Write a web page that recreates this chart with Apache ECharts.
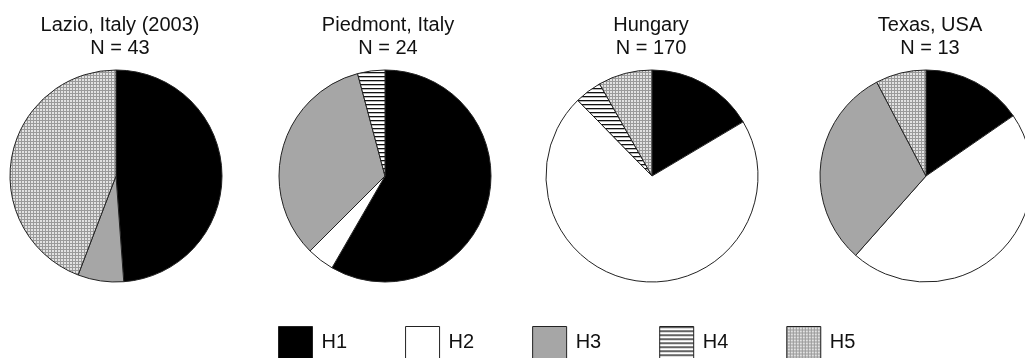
<!DOCTYPE html>
<html>
<head>
<meta charset="utf-8">
<script src="https://cdn.jsdelivr.net/npm/echarts@6/dist/echarts.min.js"></script>
<style>
  html, body { margin: 0; padding: 0; background: #fff; }
  #chart { width: 1025px; height: 358px; }
</style>
</head>
<body>
<div id="chart"></div>
<script>
// Haplotype counts per site (H1..H5)
const categories = ['H1', 'H2', 'H3', 'H4', 'H5'];
const sites = ['Lazio, Italy (2003)', 'Piedmont, Italy', 'Hungary', 'Texas, USA'];
const lazio = [21, 0, 3, 0, 19];
const piedmont = [14, 1, 8, 1, 0];
const hungary = [28, 121, 0, 7, 14];
const texas = [2, 6, 4, 0, 1];
const counts = [lazio, piedmont, hungary, texas];

// Fill patterns
function stripePattern() {
  const c = document.createElement('canvas');
  c.width = 4; c.height = 4;
  const g = c.getContext('2d');
  g.fillStyle = '#ffffff'; g.fillRect(0, 0, 4, 4);
  g.fillStyle = '#111111'; g.fillRect(0, 0, 4, 1.3);
  return { image: c, repeat: 'repeat' };
}
function dotPattern() {
  const c = document.createElement('canvas');
  c.width = 3; c.height = 3;
  const g = c.getContext('2d');
  g.fillStyle = '#9a9a9a'; g.fillRect(0, 0, 3, 3);
  g.fillStyle = '#e2e2e2'; g.fillRect(1, 1, 2, 2);
  return { image: c, repeat: 'repeat' };
}
const fills = ['#000000', '#ffffff', '#a6a6a6', stripePattern(), dotPattern()];

const centersX = [116, 385, 652, 926];
const titleX = [120, 388, 651, 930];
const centerY = 176;
const radius = 106;

const chart = echarts.init(document.getElementById('chart'), null, { renderer: 'canvas' });

const titles = sites.map((name, i) => ({
  text: name + '\nN = ' + counts[i].reduce((a, b) => a + b, 0),
  left: titleX[i],
  top: 14,
  textAlign: 'center',
  padding: 0,
  textStyle: {
    fontFamily: 'Liberation Sans, Arial, sans-serif',
    fontSize: 20,
    fontWeight: 'normal',
    lineHeight: 23,
    color: '#111'
  }
}));

const series = counts.map((vals, i) => ({
  type: 'pie',
  center: [centersX[i], centerY],
  radius: radius,
  startAngle: 90,
  clockwise: true,
  animation: false,
  silent: true,
  label: { show: false },
  labelLine: { show: false },
  emphasis: { disabled: true },
  data: categories
    .map((c, k) => ({
      name: c,
      value: vals[k],
      itemStyle: { color: fills[k], borderColor: '#222', borderWidth: 1 }
    }))
    .filter(d => d.value > 0)
}));

chart.setOption({
  animation: false,
  title: titles,
  legend: {
    data: categories,
    left: 278,
    top: 326,
    orient: 'horizontal',
    icon: 'rect',
    itemWidth: 34,
    itemHeight: 32,
    itemGap: 58,
    padding: 0,
    selectedMode: false,
    itemStyle: { borderColor: '#222', borderWidth: 1 },
    textStyle: {
      fontFamily: 'Liberation Sans, Arial, sans-serif',
      fontSize: 20,
      color: '#111',
      padding: [0, 0, 0, 4]
    }
  },
  series: series
});
</script>
</body>
</html>
